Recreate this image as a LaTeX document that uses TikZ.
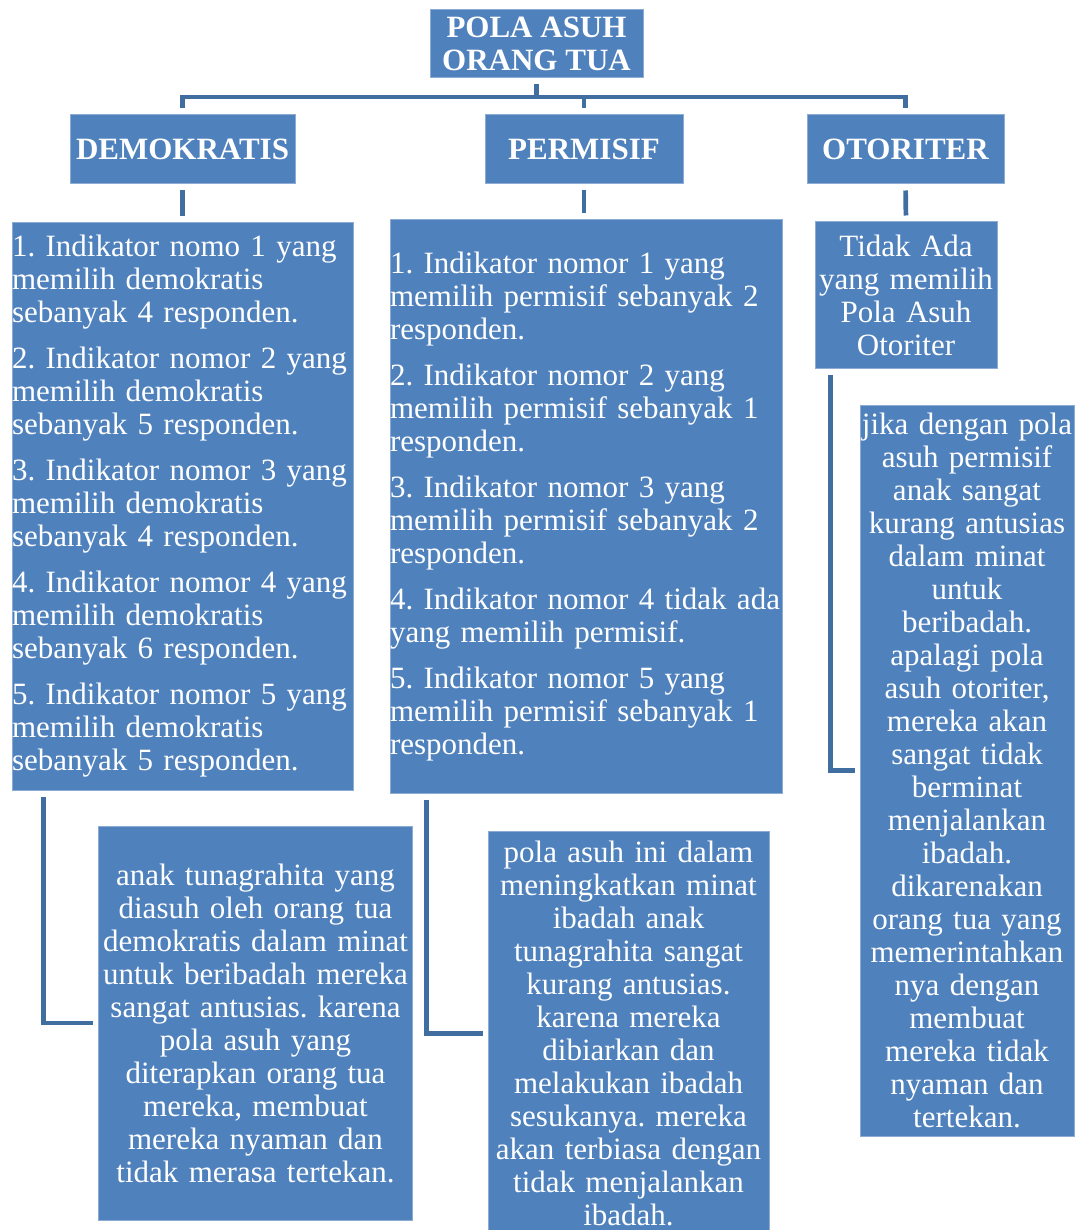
\documentclass[tikz,border=0pt]{standalone}
\usepackage{fontspec}
\setmainfont{Liberation Serif}
\usetikzlibrary{positioning}

\definecolor{boxblue}{RGB}{79,129,189}
\definecolor{boxedge}{RGB}{140,172,212}
\definecolor{linkblue}{RGB}{65,110,160}
\newcommand\boxfont{\fontsize{15.5}{16.5}\selectfont\frenchspacing\hyphenpenalty=10000\relax}

\tikzset{
	box/.style={draw=boxedge, line width=0.5pt, fill=boxblue, text=white, inner sep=0pt,
		font=\boxfont},
	head/.style={box, font=\boxfont\bfseries},
	link/.style={draw=linkblue, line width=2.35pt, shorten <=3pt, shorten >=3pt}
}

\begin{document}
\begin{tikzpicture}[x=0.5pt, y=-0.5pt]
		\useasboundingbox (0,0) rectangle (1082,1230);
		\node[head, minimum width=106.5pt, minimum height=34pt, align=center] (title) at (536.5,44) {POLA ASUH\\ORANG TUA};
		\node[head, minimum width=112.5pt, minimum height=34.5pt] (demo) at (182.5,149.5) {DEMOKRATIS};
		\node[head, minimum width=99pt, minimum height=34.5pt] (perm) at (584,149.5) {PERMISIF};
		\node[head, minimum width=98.5pt, minimum height=34.5pt] (oto) at (905.5,149.5) {OTORITER};
		\coordinate (bus) at (0,97);
		\draw[link] (demo.north) -- (demo.north |- bus) -- (oto.north |- bus) -- (oto.north);
		\draw[link, shorten >=0pt] (title.south) -- (title.south |- bus);
		\draw[link, shorten <=0pt] (perm.north |- bus) -- (perm.north);
		\node[box, text width=170.5pt, minimum height=283.5pt, align=left] (dlist) at (182.5,506.5) {1. Indikator nomo 1 yang\\memilih demokratis\\sebanyak 4 responden.\\[6.5pt]
			2. Indikator nomor 2 yang\\memilih demokratis\\sebanyak 5 responden.\\[6.5pt]
			3. Indikator nomor 3 yang\\memilih demokratis\\sebanyak 4 responden.\\[6.5pt]
			4. Indikator nomor 4 yang\\memilih demokratis\\sebanyak 6 responden.\\[6.5pt]
			5. Indikator nomor 5 yang\\memilih demokratis\\sebanyak 5 responden.};
		\node[box, text width=196pt, minimum height=286.5pt, align=left] (plist) at (586,506.5) {1. Indikator nomor 1 yang\\memilih permisif sebanyak 2\\responden.\\[6.5pt]
			2. Indikator nomor 2 yang\\memilih permisif sebanyak 1\\responden.\\[6.5pt]
			3. Indikator nomor 3 yang\\memilih permisif sebanyak 2\\responden.\\[6.5pt]
			4. Indikator nomor 4 tidak ada\\yang memilih permisif.\\[6.5pt]
			5. Indikator nomor 5 yang\\memilih permisif sebanyak 1\\responden.};
		\node[box, text width=91pt, minimum height=73pt, align=center] (tidak) at (906,295) {Tidak Ada\\yang memilih\\Pola Asuh\\Otoriter};
		\draw[link] (demo) -- (dlist);
		\draw[link] (perm) -- (perm |- plist.north);
		\draw[link] (oto.south) -- (tidak.north);
		\node[box, text width=157pt, minimum height=197pt, align=center] (anak) at (255.5,1023) {anak tunagrahita yang\\diasuh oleh orang tua\\demokratis dalam minat\\untuk beribadah mereka\\sangat antusias. karena\\pola asuh yang\\diterapkan orang tua\\mereka, membuat\\mereka nyaman dan\\tidak merasa tertekan.};
		\node[box, text width=140.5pt, minimum height=202.5pt, align=center] (pola) at (628.5,1033.5) {pola asuh ini dalam\\meningkatkan minat\\ibadah anak\\tunagrahita sangat\\kurang antusias.\\karena mereka\\dibiarkan dan\\melakukan ibadah\\sesukanya. mereka\\akan terbiasa dengan\\tidak menjalankan\\ibadah.};
		\node[box, text width=107pt, minimum height=365.5pt, align=center] (jika) at (967,770.5) {jika dengan pola\\asuh permisif\\anak sangat\\kurang antusias\\dalam minat\\untuk\\beribadah.\\apalagi pola\\asuh otoriter,\\mereka akan\\sangat tidak\\berminat\\menjalankan\\ibadah.\\dikarenakan\\orang tua yang\\memerintahkan\\nya dengan\\membuat\\mereka tidak\\nyaman dan\\tertekan.};
		\draw[link, shorten >=2.5pt] ([xshift=16pt]dlist.south west) |- (anak.west);
		\draw[link, shorten >=2.5pt] ([xshift=18.5pt]plist.south west) |- (pola.west);
		\draw[link, shorten >=2.5pt] ([xshift=8pt]tidak.south west) |- (jika.west);
	\end{tikzpicture}
\end{document}
